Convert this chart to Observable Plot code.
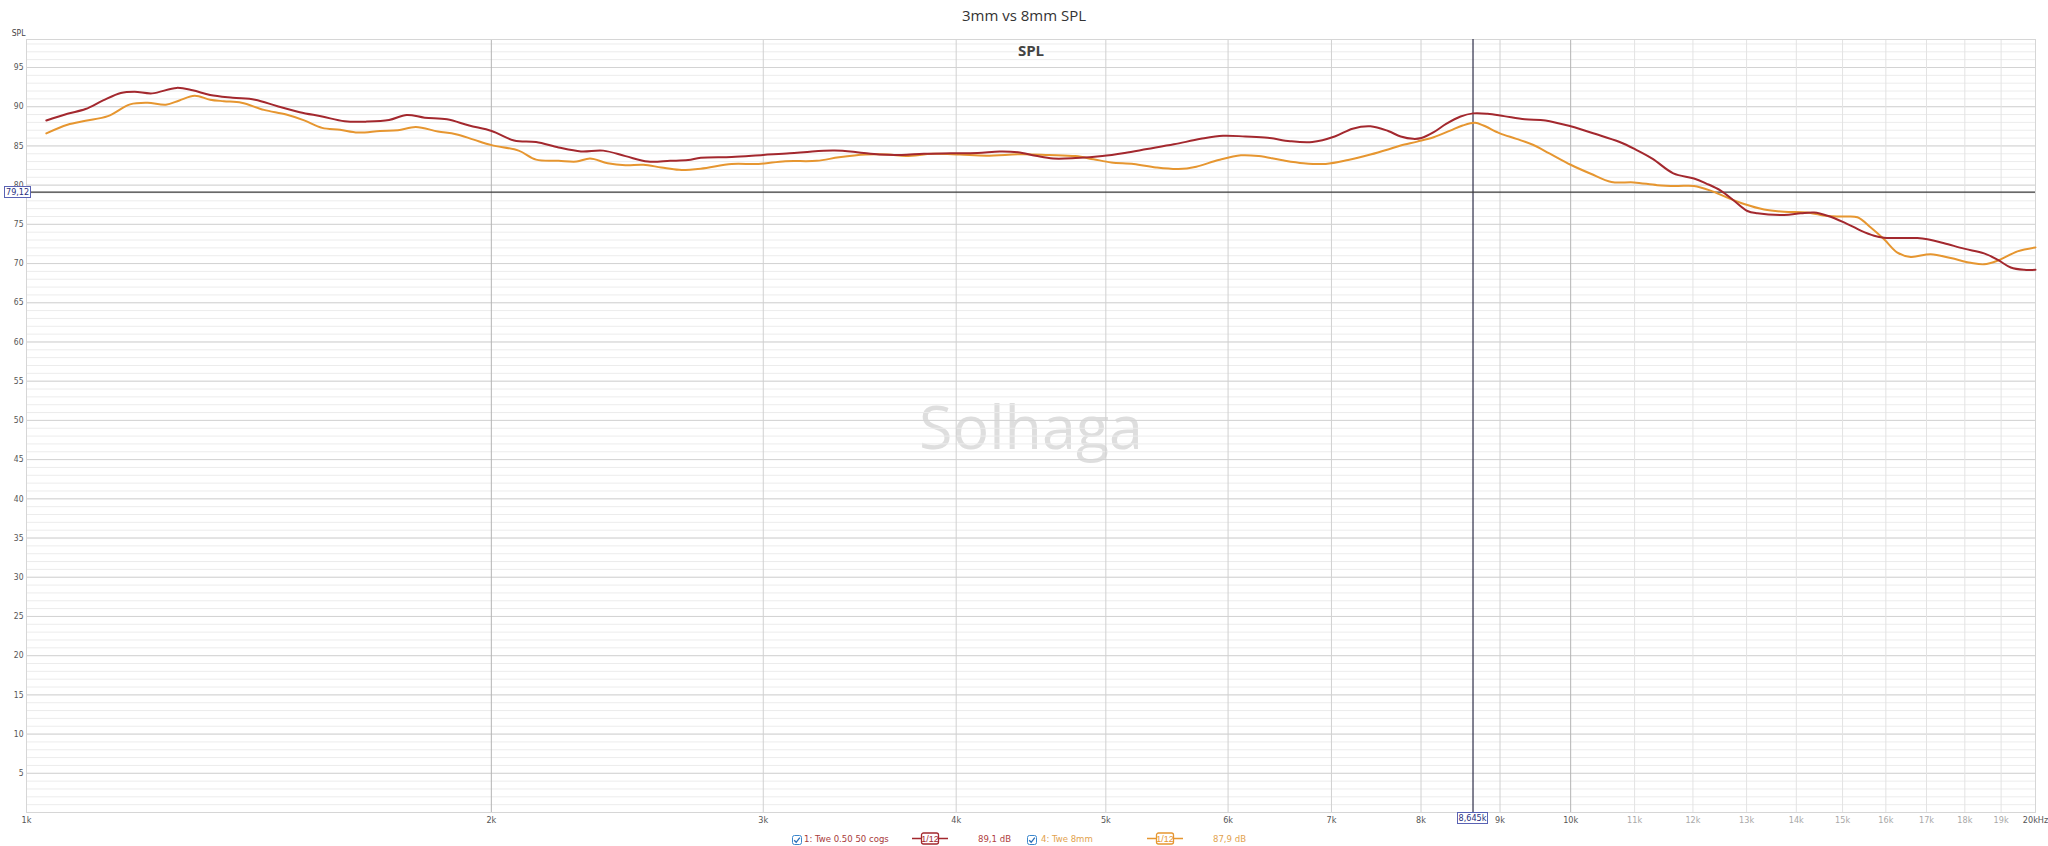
<!DOCTYPE html>
<html><head><meta charset="utf-8">
<script src="https://cdn.jsdelivr.net/npm/d3@7"></script>
<script src="https://cdn.jsdelivr.net/npm/@observablehq/plot@0.6"></script>
<style>
html,body{margin:0;padding:0;background:#fff;}
#wrap{position:relative;width:2048px;height:846px;overflow:hidden;background:#fff;}
.ov{position:absolute;white-space:nowrap;font-family:'Liberation Sans Narrow','DejaVu Sans Condensed',sans-serif;font-size:9.5px;line-height:10px;}
.box{border:1px solid #5a63b4;background:#fff;color:#2a3080;padding:0 1px;font-size:9px;}
</style></head><body><div id="wrap"></div>
<script>
// ---- data ----
const redFreq = [1030,1063,1092,1121,1151,1175,1206,1251,1281,1315,1360,1406,1454,1503,1554,1607,1661,1717,1763,1811,1872,1935,2001,2069,2138,2211,2286,2363,2443,2526,2611,2682,2733,2862,2999,3121,3227,3337,3450,3567,3688,3812,3968,4130,4269,4385,4503,4622,4779,4974,5143,5317,5534,5760,5955,6157,6365,6581,6803,7034,7224,7419,7617,7761,7906,8004,8153,8305,8486,8645,8834,9054,9339,9631,10000,10368,10758,11026,11301,11654,12019,12243,12507,12759,13015,13211,13746,14092,14376,14665,15033,15412,15722,15958,16359,16771,17022,17451,17979,18523,18896,19276,19663,20000];
const redSpl = [88.25,89.1,89.7,90.8,91.75,91.9,91.7,92.4,92.1,91.5,91.15,90.9,90.05,89.3,88.75,88.15,88.1,88.3,88.95,88.6,88.4,87.6,86.9,85.7,85.5,84.8,84.3,84.4,83.7,83.0,83.1,83.2,83.5,83.6,83.85,84.05,84.3,84.4,84.2,83.9,83.85,84.0,84.05,84.1,84.3,84.2,83.75,83.4,83.45,83.7,84.1,84.6,85.2,85.9,86.3,86.2,86.05,85.6,85.5,86.2,87.2,87.5,86.9,86.2,85.9,86.0,86.75,87.8,88.75,89.15,89.1,88.8,88.4,88.25,87.5,86.55,85.5,84.5,83.35,81.5,80.85,80.2,79.3,78.0,76.7,76.4,76.2,76.4,76.5,76.1,75.25,74.2,73.55,73.3,73.25,73.25,73.1,72.6,71.9,71.3,70.5,69.5,69.2,69.2];
const orangeFreq = [1030,1063,1092,1129,1167,1198,1231,1256,1285,1315,1342,1378,1425,1473,1513,1554,1596,1639,1694,1740,1787,1847,1897,1948,2001,2083,2138,2211,2271,2317,2379,2443,2509,2577,2646,2733,2862,2979,3100,3249,3359,3496,3614,3712,3863,4021,4184,4414,4591,4779,4909,5041,5212,5389,5571,5722,5915,6116,6281,6494,6713,6940,7176,7419,7617,7761,7955,8153,8356,8512,8672,8780,8998,9223,9452,9688,10000,10304,10627,10990,11379,11723,12018,12320,12632,12951,13343,13746,14232,14665,15033,15336,15644,15958,16278,16605,17107,17625,18158,18523,18896,19468,20000];
const orangeSpl = [86.6,87.7,88.2,88.8,90.3,90.5,90.25,90.8,91.4,90.9,90.7,90.5,89.6,89.0,88.25,87.3,87.05,86.7,86.9,87.0,87.4,86.85,86.5,85.8,85.1,84.4,83.25,83.1,83.0,83.4,82.8,82.55,82.6,82.25,81.95,82.1,82.7,82.7,83.05,83.1,83.55,83.9,83.9,83.7,84.0,83.9,83.75,83.95,83.85,83.7,83.3,82.9,82.7,82.25,82.05,82.35,83.2,83.8,83.7,83.2,82.8,82.7,83.2,83.9,84.55,85.05,85.55,86.1,86.95,87.6,87.95,87.6,86.6,85.9,85.15,84.05,82.6,81.45,80.4,80.35,80.0,79.9,79.9,79.3,78.4,77.6,76.9,76.6,76.5,76.05,76.0,75.9,74.6,73.1,71.4,70.85,71.2,70.7,70.1,69.9,70.35,71.55,72.05];
const seriesNames = ["1: Twe 0.50 50 cogs", "4: Twe 8mm"];
const seriesLevels = ["89,1 dB", "87,9 dB"];
const smoothing = "1/12";
const yMajorTicks = [5,10,15,20,25,30,35,40,45,50,55,60,65,70,75,80,85,90,95];
const yMinorTicks = d3.range(1, 99);
const xTicksDark = [1000,2000,3000,4000,5000,6000,7000,8000,9000,10000,20000];
const xTicksLight = [11000,12000,13000,14000,15000,16000,17000,18000,19000];
const xGridDark = [2000,10000];
const xGridMid = [3000,4000,5000,6000,7000,8000,9000];
const cursorFreq = 8645, cursorSpl = 79.12;
const cursorFreqLabel = "8,645k", cursorSplLabel = "79,12";
const title = "3mm vs 8mm SPL", innerTitle = "SPL", yLabel = "SPL", watermark = "Solhaga";

const RED = "#a3282e", ORANGE = "#e69630";
const redData = redFreq.map((f,i)=>({f, v: redSpl[i]}));
const orangeData = orangeFreq.map((f,i)=>({f, v: orangeSpl[i]}));
const fmt = d => d === 20000 ? "20kHz" : (d/1000) + "k";
const narrow = "'Liberation Sans Narrow','DejaVu Sans Condensed',sans-serif";

const W = 2048, H = 846;
const plot = Plot.plot({
  width: W, height: H,
  marginTop: 39, marginBottom: 34, marginLeft: 26, marginRight: 13,
  style: {fontFamily: narrow, fontSize: "9px", color: "#444", background: "#fff"},
  x: {type: "log", domain: [1000, 20000]},
  y: {domain: [0, 98.57]},
  marks: [
    Plot.text([watermark], {frameAnchor: "middle", fontSize: 61, fill: "#dedede", fontFamily: "'Open Sans',sans-serif", dy: 3}),
    Plot.ruleY(yMinorTicks, {stroke: "#ececec", strokeWidth: 1}),
    Plot.ruleY(yMajorTicks, {stroke: "#d3d3d3", strokeWidth: 1}),
    Plot.ruleX(xTicksLight, {stroke: "#e3e3e3"}),
    Plot.ruleX(xGridMid, {stroke: "#d0d0d0"}),
    Plot.ruleX(xGridDark, {stroke: "#b4b4b4"}),
    Plot.frame({stroke: "#d6d6d6"}),
    Plot.axisY({ticks: yMajorTicks, tickSize: 0, tickPadding: 3, label: null, fill: "#555", fontSize: 8.5}),
    Plot.axisX({ticks: xTicksDark, tickSize: 0, tickPadding: 4, tickFormat: fmt, label: null, fill: "#555", fontSize: 9}),
    Plot.axisX({ticks: xTicksLight, tickSize: 0, tickPadding: 4, tickFormat: fmt, label: null, fill: "#a8a8a8", fontSize: 9}),
    Plot.ruleX([cursorFreq], {stroke: "#2e2e48", strokeWidth: 1.2}),
    Plot.ruleY([cursorSpl], {stroke: "#3a3a3a", strokeWidth: 1.2}),
    Plot.line(orangeData, {x: "f", y: "v", stroke: ORANGE, strokeWidth: 2, curve: "catmull-rom"}),
    Plot.line(redData, {x: "f", y: "v", stroke: RED, strokeWidth: 2, curve: "catmull-rom"}),
    Plot.text([title], {frameAnchor: "top", lineAnchor: "middle", dy: -23, dx: -7, fontSize: 15, fill: "#333", fontFamily: "'Open Sans',sans-serif"}),
    Plot.text([innerTitle], {frameAnchor: "top", lineAnchor: "middle", dy: 12, fontSize: 15, fontWeight: "bold", fill: "#444", fontFamily: "'Open Sans',sans-serif"}),
    Plot.text([yLabel], {frameAnchor: "top-left", lineAnchor: "middle", dx: -1, dy: -6, textAnchor: "end", fontSize: 8.5, fill: "#444"})
  ]
});
const wrap = document.getElementById("wrap");
wrap.appendChild(plot);

const xs = plot.scale("x"), ys = plot.scale("y");
function ov(html, left, top, cls, style) {
  const d = document.createElement("div");
  d.className = "ov" + (cls ? " " + cls : "");
  d.innerHTML = html;
  d.style.left = left + "px"; d.style.top = top + "px";
  if (style) Object.assign(d.style, style);
  wrap.appendChild(d);
  return d;
}
// cursor labels
const cy = ys.apply(cursorSpl), cx = xs.apply(cursorFreq);
ov(cursorSplLabel, 4, cy - 6, "box");
const fl = ov(cursorFreqLabel, 0, 812, "box");
fl.style.left = (cx - fl.offsetWidth / 2) + "px";

// legend
function checkbox() {
  return `<svg width="10" height="10" style="vertical-align:middle"><rect x="0.5" y="0.5" width="9" height="9" rx="2" fill="#fff" stroke="#3b86cc"/><path d="M2.2 5.2 L4.2 7.3 L7.8 2.6" fill="none" stroke="#2a6fb8" stroke-width="1.3"/></svg>`;
}
function smoothSym(c) {
  return `<svg width="36" height="13" style="vertical-align:middle"><line x1="0" y1="6.5" x2="36" y2="6.5" stroke="${c}" stroke-width="1.5"/><rect x="9.5" y="1" width="17" height="11" rx="2" fill="#fff" stroke="${c}" stroke-width="1.3"/><text x="18" y="10" text-anchor="middle" font-size="9" fill="${c}" font-family="'Liberation Sans Narrow',sans-serif">${smoothing}</text></svg>`;
}
const legY = 833;
ov(checkbox(), 792, legY + 1);
ov(seriesNames[0], 804, legY + 1, null, {color: "#a83a3a"});
ov(smoothSym(RED), 912, legY - 1);
ov(seriesLevels[0], 978, legY + 1, null, {color: "#b0403e"});
ov(checkbox(), 1027, legY + 1);
ov(seriesNames[1], 1041, legY + 1, null, {color: "#e2a24e"});
ov(smoothSym(ORANGE), 1147, legY - 1);
ov(seriesLevels[1], 1213, legY + 1, null, {color: "#e2a24e"});
</script></body></html>
